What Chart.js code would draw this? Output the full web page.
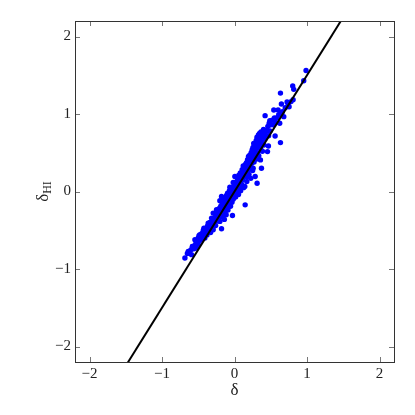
<!DOCTYPE html>
<html>
<head>
<meta charset="utf-8">
<script src="https://cdn.jsdelivr.net/npm/chart.js@4.4.0/dist/chart.umd.min.js"></script>
<style>
  html, body { margin: 0; padding: 0; background: #fff; }
  canvas { display: block; }
</style>
</head>
<body>
<canvas id="chart" width="415" height="415"></canvas>
<script>
// Axis ticks (both axes)
const tickValues = [-2, -1, 0, 1, 2];
const axisMin = -2.2;
const axisMax = 2.2;

// Fit line endpoints (slope 1.5, clipped by chart area)
const fitX = [-1.5, 1.5];
const fitY = [-2.25, 2.25];

// Scatter points: delta (x) and delta_HI (y)
const deltaX = [
  -0.684, -0.65, -0.638, -0.62, -0.60, -0.592, -0.58, -0.579, -0.56, -0.546, -0.54, -0.53, -0.523, -0.51, -0.50, -0.50,
  -0.49, -0.478, -0.47, -0.46, -0.45, -0.44, -0.43, -0.422, -0.42, -0.409, -0.40, -0.39, -0.38, -0.37, -0.363, -0.36,
  -0.35, -0.34, -0.33, -0.32, -0.317, -0.31, -0.30, -0.294, -0.294, -0.29, -0.28, -0.27, -0.26, -0.25,
  -0.248, -0.24, -0.23, -0.22, -0.21, -0.202, -0.202, -0.20, -0.19, -0.185, -0.179, -0.179, -0.175, -0.17, -0.165,
  -0.16, -0.15, -0.145, -0.14, -0.135, -0.13, -0.125, -0.119, -0.115, -0.11, -0.105, -0.10,
  -0.096, -0.09, -0.087, -0.08, -0.075, -0.07, -0.064, -0.06, -0.055, -0.05, -0.045, -0.04, -0.035, -0.028, -0.03,
  -0.02, -0.018, -0.018, -0.01, 0.0, 0.005, 0.01, 0.015, 0.02, 0.028, 0.03, 0.04, 0.045, 0.05, 0.055, 0.06, 0.064,
  0.07, 0.075, 0.08, 0.085, 0.09, 0.096, 0.10,
  0.105, 0.11, 0.115, 0.12, 0.125, 0.13, 0.135, 0.142, 0.142, 0.147, 0.15, 0.155, 0.16, 0.165, 0.17, 0.174, 0.18,
  0.185, 0.19, 0.193, 0.20, 0.205, 0.21, 0.215, 0.22, 0.225, 0.23, 0.235, 0.24, 0.243, 0.25, 0.255, 0.257, 0.26,
  0.265, 0.27, 0.275, 0.28, 0.285, 0.29, 0.294, 0.30, 0.30,
  0.305, 0.31, 0.312, 0.317, 0.32, 0.325, 0.33, 0.335, 0.34, 0.345, 0.349, 0.355, 0.358, 0.36, 0.365, 0.372, 0.372,
  0.375, 0.38, 0.385, 0.39, 0.395, 0.40, 0.405, 0.41, 0.42, 0.422, 0.43, 0.441, 0.455, 0.46, 0.468, 0.47, 0.478,
  0.487, 0.49,
  0.50, 0.52, 0.542, 0.542, 0.55, 0.560, 0.57, 0.588, 0.601, 0.61, 0.624, 0.634, 0.634, 0.634, 0.647, 0.66, 0.680,
  0.70, 0.725, 0.74, 0.753, 0.78, 0.803, 0.817, 0.808, 0.955, 0.987
];
const deltaHI = [
  -0.858, -0.80, -0.773, -0.79, -0.75, -0.815, -0.71, -0.708, -0.74, -0.622, -0.69, -0.66, -0.730, -0.64, -0.60, -0.68,
  -0.57, -0.558, -0.63, -0.60, -0.54, -0.58, -0.50, -0.472, -0.55, -0.601, -0.52, -0.47, -0.56, -0.44, -0.408, -0.50,
  -0.47, -0.40, -0.53, -0.45, -0.343, -0.42, -0.48, -0.494, -0.279, -0.37, -0.41, -0.33, -0.44, -0.30,
  -0.236, -0.38, -0.27, -0.34, -0.22, -0.386, -0.120, -0.29, -0.19, -0.33, -0.481, -0.064, -0.25, -0.16, -0.313,
  -0.21, -0.28, -0.12, -0.36, -0.19, -0.09, -0.25, -0.142, -0.30, -0.05, -0.20, -0.13,
  -0.021, -0.24, -0.193, -0.08, -0.15, 0.01, 0.056, -0.11, -0.19, -0.03, 0.04, -0.08, -0.14, -0.309, 0.03,
  -0.05, -0.099, 0.116, 0.07, -0.01, 0.193, 0.05, -0.07, 0.12, -0.013, 0.08, 0.17, 0.02, 0.10, -0.04, 0.21, 0.150,
  0.06, 0.13, 0.24, 0.01, 0.17, 0.215, 0.09,
  0.28, 0.15, 0.22, 0.33, 0.05, 0.19, 0.26, 0.279, 0.064, -0.172, 0.35, 0.21, 0.30, 0.373, 0.13, 0.193, 0.41,
  0.27, 0.34, 0.451, 0.22, 0.38, 0.47, 0.30, 0.42, 0.17, 0.50, 0.36, 0.44, 0.536, 0.27, 0.57, 0.300, 0.45,
  0.62, 0.38, 0.52, 0.614, 0.193, 0.48, 0.494, 0.66, 0.56,
  0.42, 0.70, 0.107, 0.665, 0.50, 0.59, 0.73, 0.46, 0.64, 0.75, 0.579, 0.68, 0.408, 0.55, 0.77, 0.760, 0.300,
  0.64, 0.71, 0.52, 0.62, 0.708, 0.80, 0.60, 0.73, 0.68, 0.979, 0.77, 0.785, 0.515, 0.84, 0.588, 0.72, 0.880,
  0.914, 0.78,
  0.86, 0.92, 0.858, 1.052, 0.95, 0.717, 0.89, 0.953, 1.052, 0.99, 0.880, 1.009, 0.631, 1.270, 1.129, 1.03, 0.966,
  1.08, 1.155, 1.12, 1.094, 1.16, 1.361, 1.318, 1.185, 1.429, 1.562
];

const fontFamily = '"Liberation Serif", "DejaVu Serif", serif';

function fmt(v) {
    return v < 0 ? '\u2212' + Math.abs(v) : String(v);
}

// Frame, inward ticks on all four sides and axis titles
const framePlugin = {
    id: 'frame',
    afterDraw(chart) {
        const ctx = chart.ctx;
        const area = chart.chartArea;
        const xs = chart.scales.x;
        const ys = chart.scales.y;
        ctx.save();
        ctx.strokeStyle = '#777';
        ctx.lineWidth = 1;
        ctx.beginPath();
        tickValues.forEach(v => {
            const px = Math.round(xs.getPixelForValue(v)) + 0.5;
            ctx.moveTo(px, area.bottom); ctx.lineTo(px, area.bottom - 5);
            ctx.moveTo(px, area.top); ctx.lineTo(px, area.top + 5);
            const py = Math.round(ys.getPixelForValue(v)) + 0.5;
            ctx.moveTo(area.left, py); ctx.lineTo(area.left + 5, py);
            ctx.moveTo(area.right, py); ctx.lineTo(area.right - 5, py);
        });
        ctx.stroke();
        ctx.strokeStyle = '#333';
        ctx.strokeRect(Math.round(area.left) + 0.5, Math.round(area.top) + 0.5,
            Math.round(area.right - area.left), Math.round(area.bottom - area.top));

        ctx.fillStyle = '#222';
        ctx.textAlign = 'center';
        ctx.textBaseline = 'middle';
        ctx.font = '17px ' + fontFamily;
        ctx.fillText('\u03b4', (area.left + area.right) / 2, 391);

        // y title: delta with subscript HI, rotated
        ctx.translate(43, (area.top + area.bottom) / 2);
        ctx.rotate(-Math.PI / 2);
        ctx.textAlign = 'left';
        ctx.textBaseline = 'alphabetic';
        ctx.font = '17px ' + fontFamily;
        const w1 = ctx.measureText('\u03b4').width;
        ctx.font = '12px ' + fontFamily;
        const w2 = ctx.measureText('HI').width;
        const start = -(w1 + w2) / 2;
        ctx.font = '17px ' + fontFamily;
        ctx.fillText('\u03b4', start, 5);
        ctx.font = '12px ' + fontFamily;
        ctx.fillText('HI', start + w1, 8);
        ctx.restore();
    }
};

const ctx = document.getElementById('chart').getContext('2d');

new Chart(ctx, {
    type: 'scatter',
    data: {
        datasets: [
            {
                type: 'line',
                data: fitX.map((x, i) => ({ x: x, y: fitY[i] })),
                borderColor: '#000',
                borderWidth: 2,
                pointRadius: 0,
                fill: false,
                order: 0
            },
            {
                data: deltaX.map((x, i) => ({ x: x, y: deltaHI[i] })),
                backgroundColor: '#0000ff',
                borderWidth: 0,
                pointRadius: 2.7,
                order: 1
            }
        ]
    },
    options: {
        responsive: false,
        animation: false,
        layout: {
            padding: { left: 0, right: 21, top: 21, bottom: 0 }
        },
        plugins: {
            legend: { display: false },
            tooltip: { enabled: false }
        },
        scales: {
            x: {
                type: 'linear',
                min: axisMin,
                max: axisMax,
                afterBuildTicks: scale => { scale.ticks = tickValues.map(v => ({ value: v })); },
                afterFit: scale => { scale.height = 53; },
                grid: { display: false, drawTicks: false },
                border: { display: false },
                ticks: {
                    padding: 3,
                    color: '#222',
                    font: { family: fontFamily, size: 15 },
                    callback: v => fmt(v)
                }
            },
            y: {
                type: 'linear',
                min: axisMin,
                max: axisMax,
                afterBuildTicks: scale => { scale.ticks = tickValues.map(v => ({ value: v })); },
                afterFit: scale => { scale.width = 75; },
                grid: { display: false, drawTicks: false },
                border: { display: false },
                ticks: {
                    padding: 4,
                    color: '#222',
                    font: { family: fontFamily, size: 15 },
                    callback: v => fmt(v)
                }
            }
        }
    },
    plugins: [framePlugin]
});
</script>
</body>
</html>
